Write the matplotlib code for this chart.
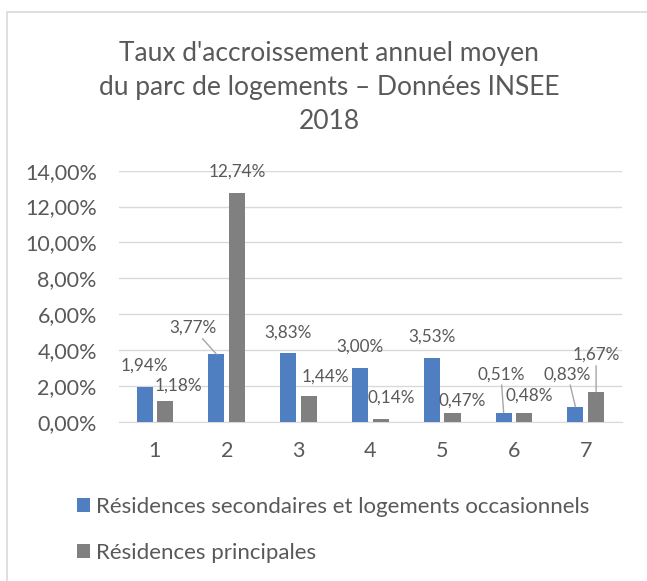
import matplotlib
matplotlib.use('Agg')
import matplotlib.pyplot as plt
import numpy as np
from matplotlib.patches import Rectangle

# Données
categories = ['1', '2', '3', '4', '5', '6', '7']
secondaires = [1.94, 3.77, 3.83, 3.00, 3.53, 0.51, 0.83]
principales = [1.18, 12.74, 1.44, 0.14, 0.47, 0.48, 1.67]
series_names = ['Résidences secondaires et logements occasionnels', 'Résidences principales']
titre = "Taux d'accroissement annuel moyen\ndu parc de logements – Données INSEE\n2018"

# Mise en page des étiquettes (placées à la main comme dans Excel)
pos_sec = [(0.859, 3.11), (1.528, 5.23), (2.854, 4.98), (3.857, 4.18), (4.859, 4.76), (5.818, 2.65), (6.747, 2.65)]
pos_pri = [(1.331, 1.99), (2.143, 13.95), (3.369, 2.51), (4.285, 1.33), (5.284, 1.19), (6.217, 1.43), (7.143, 3.72)]
leader_sec = [False, True, False, False, False, True, True]
leader_pri = [False, False, False, False, False, False, True]

BLEU = '#4f7fc0'
GRIS = '#808080'
TEXTE = '#595959'
GRILLE = '#d9d9d9'

plt.rcParams['font.family'] = ['Lato', 'DejaVu Sans']

fig = plt.figure(figsize=(6.47, 5.81), dpi=100)
ax = fig.add_axes([119/647, 1 - 421.7/581, 502.7/647, (421.7 - 170.7)/581])

x = np.arange(1, len(categories) + 1)
larg = 0.223
dec = 0.144
b1 = ax.bar(x - dec, secondaires, larg, color=BLEU, zorder=3, label=series_names[0])
b2 = ax.bar(x + dec, principales, larg, color=GRIS, zorder=3, label=series_names[1])

def fmt(v):
    return f'{v:.2f}'.replace('.', ',') + '%'

def etiquettes(xs, vals, pos, leaders):
    for xi, v, p, lead in zip(xs, vals, pos, leaders):
        if lead:
            ax.annotate(fmt(v), xy=(xi, v), xytext=p, ha='center', va='center',
                        fontsize=12.3, color=TEXTE, zorder=4,
                        arrowprops=dict(arrowstyle='-', color='#a6a6a6', lw=1,
                                        shrinkA=0, shrinkB=0))
        else:
            ax.text(p[0], p[1], fmt(v), ha='center', va='center',
                    fontsize=12.3, color=TEXTE, zorder=4)

etiquettes(x - dec, secondaires, pos_sec, leader_sec)
etiquettes(x + dec, principales, pos_pri, leader_pri)

ax.set_xlim(0.5, 7.5)
ax.set_ylim(0, 14)
ax.set_yticks(np.arange(0, 15, 2))
ax.set_yticklabels([fmt(v) for v in np.arange(0, 15, 2)])
ax.set_xticks(x)
ax.set_xticklabels(categories)
ax.tick_params(axis='both', length=0, labelsize=15.5, colors=TEXTE)
ax.tick_params(axis='y', pad=16)
ax.tick_params(axis='x', pad=14)
ax.grid(axis='y', color=GRILLE, lw=1, zorder=0)
for s in ['left', 'right', 'top']:
    ax.spines[s].set_visible(False)
ax.spines['bottom'].set_color(GRILLE)
ax.spines['bottom'].set_zorder(2)

fig.text(329/647, 1 - 87/581, titre, ha='center', va='center', fontsize=19,
         color=TEXTE, linespacing=1.45)

fig.legend(handles=[b1, b2], loc='center left', bbox_to_anchor=(57/647, 1 - 530/581),
           frameon=False, fontsize=16, handlelength=0.6, handleheight=0.6,
           handletextpad=0.25, labelspacing=1.15, labelcolor=TEXTE)

# cadre du graphique
fig.patches.append(Rectangle((7/647, -0.1), 2, 1 - 12/581 + 0.1, transform=fig.transFigure,
                             fill=False, edgecolor=GRILLE, lw=1.2))

fig.savefig('out.png', dpi=100)
